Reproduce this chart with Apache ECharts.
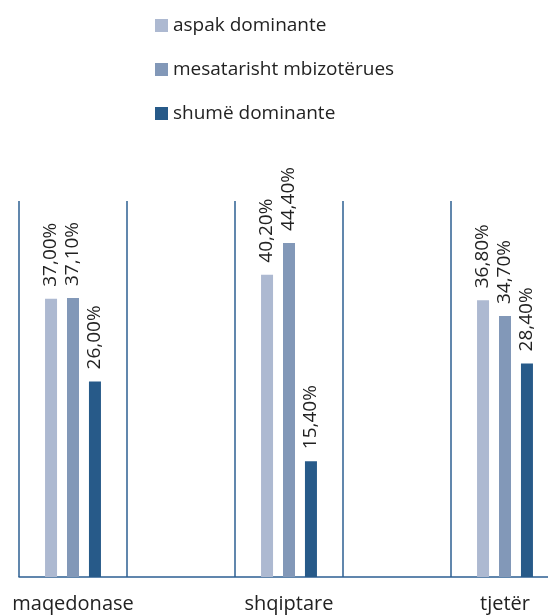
<!DOCTYPE html>
<html>
<head>
<meta charset="utf-8">
<script src="https://cdn.jsdelivr.net/npm/echarts@6/dist/echarts.min.js"></script>
<style>
  html, body { margin: 0; padding: 0; background: #fff; }
  #chart { width: 548px; height: 615px; }
</style>
</head>
<body>
<div id="chart"></div>
<script>
// kategoritë (me kolona bosh ndërmjet)
const categories = ['maqedonase', '', 'shqiptare', '', 'tjetër']
const seriesNames = ['aspak dominante', 'mesatarisht mbizotërues', 'shumë dominante']
const aspak = [37.0, null, 40.2, null, 36.8]
const mesatarisht = [37.1, null, 44.4, null, 34.7]
const shume = [26.0, null, 15.4, null, 28.4]
const colors = ['#adb9d1', '#8298b8', '#275a89']

const fontFamily = '"Open Sans", "Noto Sans", sans-serif'

const chart = echarts.init(document.getElementById('chart'))

const makeSeries = (name, data, color) => ({
  name: name,
  type: 'bar',
  data: data,
  barWidth: 12,
  barGap: '83%',
  itemStyle: { color: color },
  label: {
    show: true,
    position: 'top',
    rotate: 90,
    align: 'left',
    verticalAlign: 'middle',
    distance: 12,
    color: '#222',
    fontSize: 19,
    fontFamily: fontFamily,
    formatter: p => p.value.toFixed(2).replace('.', ',') + '%'
  }
})

const option = {
  animation: false,
  color: colors,
  legend: {
    orient: 'vertical',
    left: 150,
    top: 11,
    itemWidth: 13,
    itemHeight: 13,
    itemGap: 25,
    icon: 'rect',
    textStyle: { fontSize: 19, color: '#222', fontFamily: fontFamily },
    data: seriesNames
  },
  grid: {
    left: 19,
    top: 201,
    width: 540,
    height: 376,
    outerBoundsMode: 'none'
  },
  xAxis: {
    type: 'category',
    data: categories,
    axisLine: { lineStyle: { color: '#2c5f92', width: 1.5 } },
    axisTick: { show: false },
    axisLabel: { fontSize: 20, color: '#222', margin: 17, fontFamily: fontFamily, interval: 0 },
    splitLine: { show: true, interval: 0, lineStyle: { color: '#2c5f92', width: 1.5 } }
  },
  yAxis: {
    type: 'value',
    min: 0,
    max: 50,
    show: false
  },
  series: [
    makeSeries(seriesNames[0], aspak, colors[0]),
    makeSeries(seriesNames[1], mesatarisht, colors[1]),
    makeSeries(seriesNames[2], shume, colors[2])
  ]
}

chart.setOption(option)
</script>
</body>
</html>
